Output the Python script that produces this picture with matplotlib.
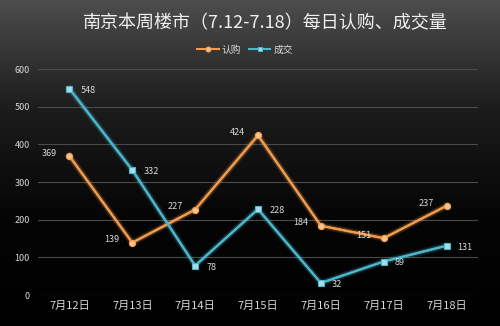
import numpy as np
import matplotlib.pyplot as plt
import matplotlib.patheffects as pe

plt.rcParams['font.family'] = ['Noto Sans CJK SC', 'DejaVu Sans']

days = ['7月12日', '7月13日', '7月14日', '7月15日', '7月16日', '7月17日', '7月18日']
subscribe = [369, 139, 227, 424, 184, 151, 237]
deals = [548, 332, 78, 228, 32, 89, 131]
yticks = [0, 100, 200, 300, 400, 500, 600]

orange = '#f29b4c'
cyan = '#4cb6cc'

fig = plt.figure(figsize=(5, 3.26), dpi=100)

# background gradient, grey at the top fading to black
bg = fig.add_axes([0, 0, 1, 1], zorder=-1)
grad = np.linspace(0, 1, 256).reshape(-1, 1)
bg.imshow(grad, aspect='auto', cmap=plt.matplotlib.colors.LinearSegmentedColormap.from_list(
    'bg', ['#4d4d4d', '#1c1c1c', '#050505', '#000000']), extent=[0, 1, 0, 1])
bg.axis('off')

ax = fig.add_axes([0.076, 0.095, 0.88, 0.693])
ax.set_facecolor('none')
x = np.arange(len(days))

def glow(color):
    return [pe.Stroke(linewidth=5, foreground=color, alpha=0.12),
            pe.Stroke(linewidth=3.2, foreground=color, alpha=0.22),
            pe.Normal()]

# glow lines first, then the plain lines and markers on top
ax.plot(x, subscribe, color=orange, lw=1.5, path_effects=glow(orange), zorder=2)
ax.plot(x, deals, color=cyan, lw=1.5, path_effects=glow(cyan), zorder=2)
l1, = ax.plot(x, subscribe, color=orange, lw=1.5, marker='o', ms=4.5,
              mfc='#f8c48e', mec=orange, mew=0.8, label='认购', zorder=3)
l2, = ax.plot(x, deals, color=cyan, lw=1.5, marker='s', ms=4.2,
              mfc='#a6dde9', mec=cyan, mew=0.8, label='成交', zorder=3)

# value labels
for i, v in enumerate(subscribe):
    ax.annotate(str(v), (x[i], v), xytext=(-9, 2), textcoords='offset points',
                ha='right', va='center', color='#d9d9d9', fontsize=6.5)
for i, v in enumerate(deals):
    ax.annotate(str(v), (x[i], v), xytext=(8, -1), textcoords='offset points',
                ha='left', va='center', color='#d9d9d9', fontsize=6.5)

ax.set_xlim(-0.5, len(days) - 0.5)
ax.set_ylim(0, 600)
ax.set_yticks(yticks)
ax.set_xticks(x)
ax.set_xticklabels(days)
ax.grid(axis='y', color='#4a4a4a', lw=0.8)
ax.set_axisbelow(True)
for s in ax.spines.values():
    s.set_visible(False)
ax.tick_params(length=0, colors='#d9d9d9', labelsize=6.5)
ax.tick_params(axis='x', labelsize=8, pad=4)
ax.tick_params(axis='y', pad=6)

fig.text(0.53, 0.93, '南京本周楼市（7.12-7.18）每日认购、成交量', ha='center',
         va='center', color='#f0f0f0', fontsize=13)
fig.legend(handles=[l1, l2], loc='center', bbox_to_anchor=(0.49, 0.847), ncol=2,
           frameon=False, fontsize=7, labelcolor='#d9d9d9', handlelength=2.2,
           columnspacing=0.8, handletextpad=0.3, markerscale=0.8)

fig.savefig('out.png', dpi=100)
